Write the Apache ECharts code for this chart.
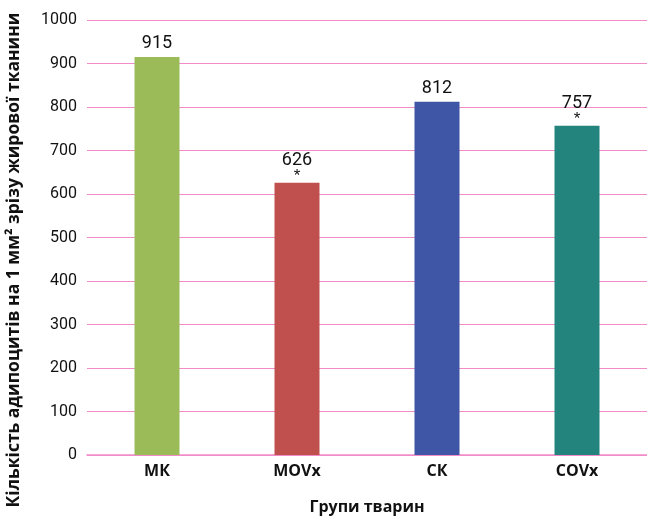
<!DOCTYPE html>
<html>
<head>
<meta charset="utf-8">
<script src="https://cdn.jsdelivr.net/npm/echarts@6/dist/echarts.min.js"></script>
<style>
  html, body { margin: 0; padding: 0; background: #fff; }
  #chart { width: 647px; height: 516px; }
</style>
</head>
<body>
<div id="chart"></div>
<script>
// дані з рисунка
var groups = ['МК', 'MOVx', 'СК', 'COVx'];
var counts = [915, 626, 812, 757];
var marks = ['', '*', '', '*'];   // достовірна різниця
var colors = ['#9BBB59', '#C0504D', '#3F55A5', '#23847E'];
var yTitle = 'Кількість адипоцитів на 1 мм² зрізу жирової тканини';

var gridColor = '#F28CC8';

var chart = echarts.init(document.getElementById('chart'));

var option = {
    backgroundColor: '#fff',
    animation: false,
    grid: {
        left: 87,
        right: 0,
        top: 20,
        bottom: 61,
        containLabel: false,
        outerBoundsMode: 'none'
    },
    // підпис осі Y (зміщений вниз, як в оригіналі)
    graphic: [{
        type: 'text',
        x: 14,
        y: 260,
        rotation: Math.PI / 2,
        style: {
            text: yTitle,
            fontFamily: 'Open Sans',
            fontWeight: 'bold',
            fontSize: 17.5,
            fill: '#111',
            align: 'center',
            verticalAlign: 'middle'
        }
    }],
    xAxis: {
        type: 'category',
        data: groups,
        name: 'Групи тварин',
        nameLocation: 'middle',
        nameGap: 44,
        nameTextStyle: {
            fontFamily: 'Open Sans',
            fontWeight: 'bold',
            fontSize: 16,
            color: '#111'
        },
        axisLine: { show: true, lineStyle: { color: gridColor, width: 1.5 } },
        axisTick: { show: false },
        axisLabel: {
            margin: 8,
            fontFamily: 'Open Sans',
            fontWeight: 'bold',
            fontSize: 16,
            color: '#111'
        }
    },
    yAxis: {
        type: 'value',
        min: 0,
        max: 1000,
        interval: 100,
        axisLine: { show: false },
        axisTick: { show: false },
        axisLabel: {
            margin: 10,
            fontFamily: 'Roboto',
            fontSize: 16,
            color: '#111',
            formatter: function (v) { return String(v); }
        },
        splitLine: { lineStyle: { color: gridColor, width: 1.2 } }
    },
    series: [{
        type: 'bar',
        barWidth: 45,
        data: counts.map(function (v, i) {
            return {
                value: v,
                itemStyle: { color: colors[i] },
                label: { distance: marks[i] ? 0 : 3 }
            };
        }),
        label: {
            show: true,
            position: 'top',
            distance: 0,
            formatter: function (p) {
                var s = marks[p.dataIndex];
                return s ? '{v|' + p.value + '}\n{s|' + s + '}' : '{v|' + p.value + '}';
            },
            rich: {
                v: {
                    fontFamily: 'Roboto',
                    fontSize: 18,
                    color: '#111',
                    lineHeight: 20
                },
                s: {
                    fontFamily: 'Liberation Sans',
                    fontSize: 17,
                    color: '#111',
                    lineHeight: 12
                }
            }
        }
    }]
};

chart.setOption(option);
</script>
</body>
</html>
